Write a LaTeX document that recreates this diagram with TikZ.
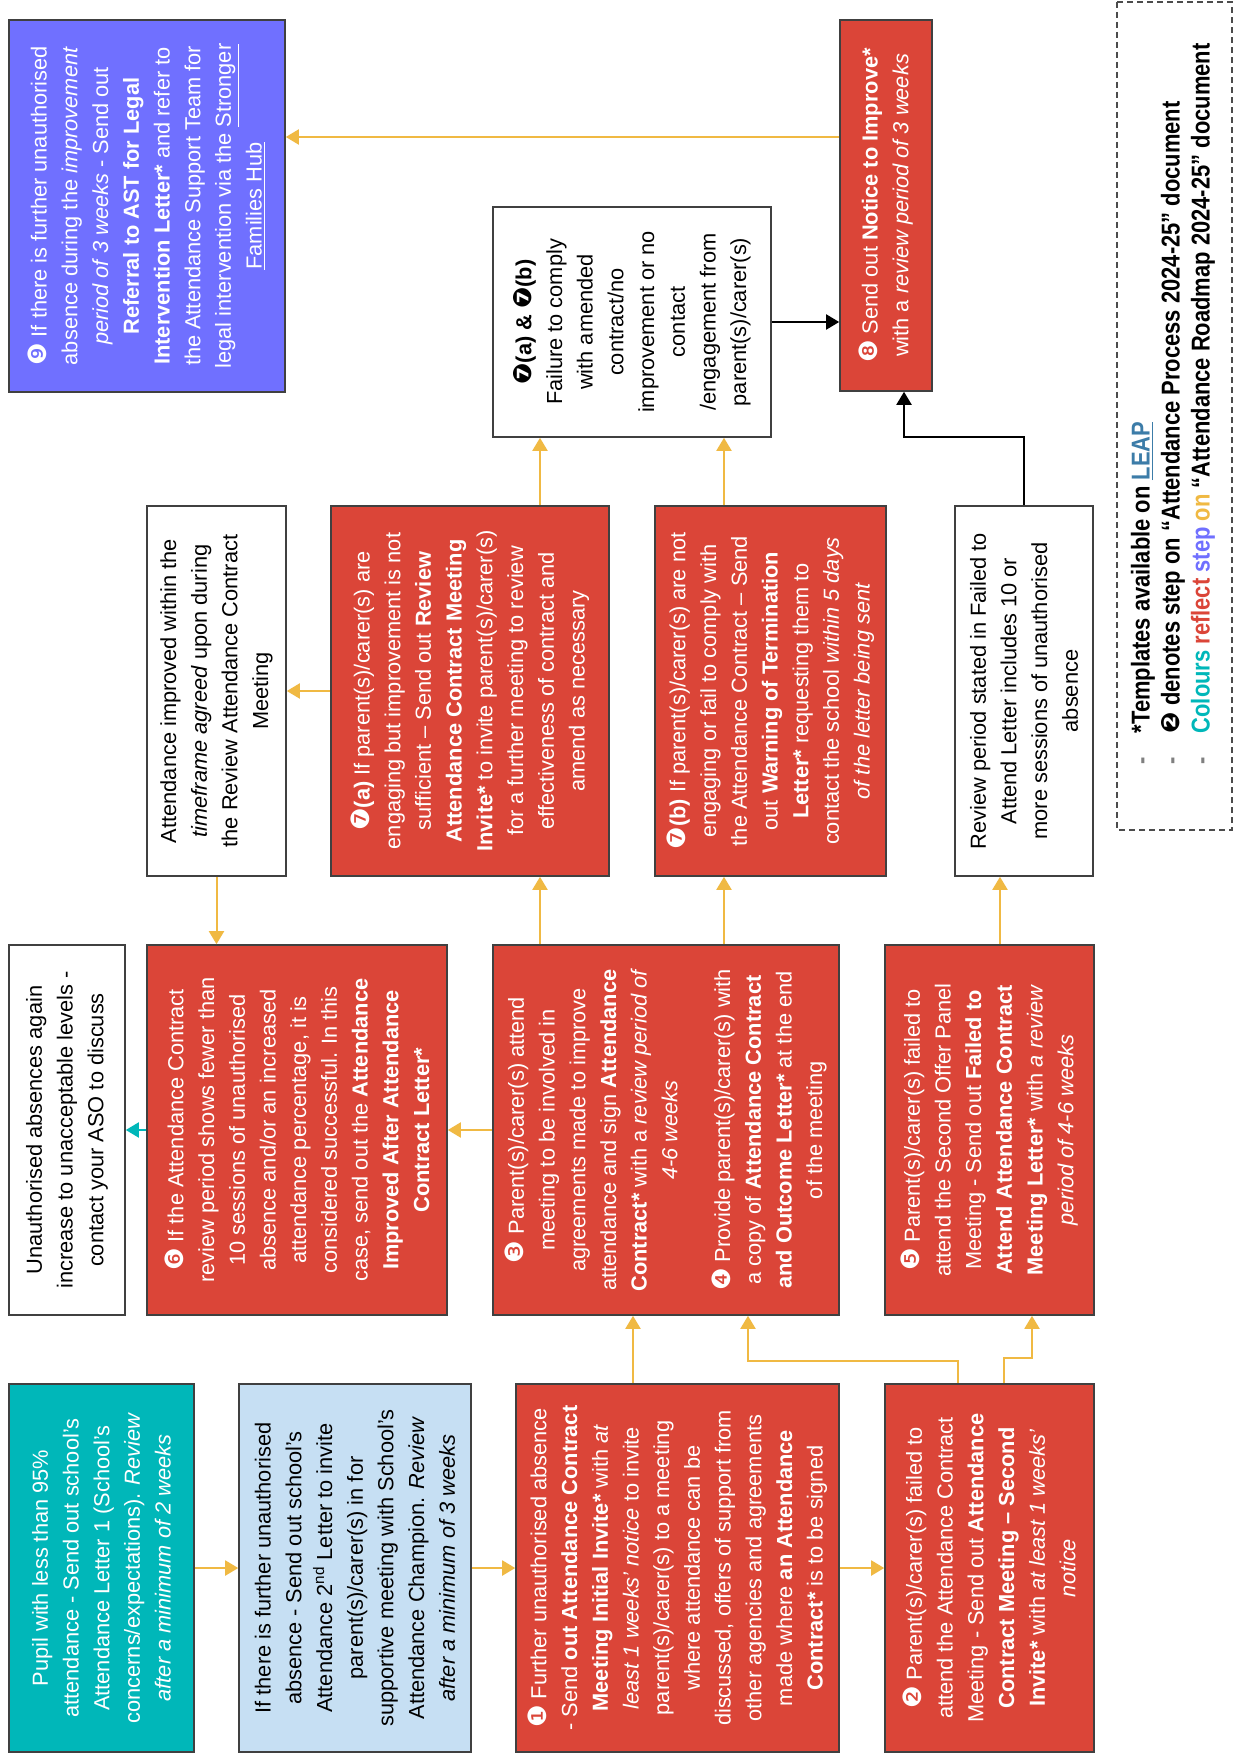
\documentclass[tikz,border=0pt]{standalone}
\usepackage{fontspec}
\setmainfont{Liberation Sans}
\newfontfamily\dingfont{DejaVu Sans}
\newfontfamily\legendfont[FakeStretch=0.85]{Liberation Sans}
\usetikzlibrary{arrows.meta}
\definecolor{stepteal}{HTML}{00B7B9}
\definecolor{secondblue}{HTML}{C6DFF3}
\definecolor{stepred}{HTML}{DB4538}
\definecolor{stepviolet}{HTML}{7070FF}
\definecolor{flowgold}{HTML}{F0B943}
\definecolor{leapblue}{HTML}{3C7CA8}
\newcommand{\stepno}[1]{{\dingfont\fontsize{12.6}{0}\selectfont #1}}
\tikzset{
  boxsize/.style 2 args={minimum width=#2*0.5pt,minimum height=#1*0.5pt},
  card/.style={draw=black!75,line width=0.8pt,rotate=90,align=center,inner sep=2pt},
  redcard/.style={card,fill=stepred,text=white},
  plaincard/.style={card,fill=white,text=black},
  flow/.style={draw=flowgold,line width=1pt,-{Triangle[width=7.5pt,length=6.5pt]}},
  blackflow/.style={flow,draw=black},
  tealflow/.style={flow,draw=stepteal}
}
\begin{document}
\begin{tikzpicture}[x=0.5pt,y=-0.5pt,every node/.style={font=\fontsize{10.9}{15.35}\selectfont}]
\useasboundingbox (0,0) rectangle (1235,1754);
\fill[white] (0,0) rectangle (1235,1754);
\node[card,fill=stepteal,text=white,boxsize={185}{368}] (pupil) at (101.5,1568) {Pupil with less than 95\%\\ attendance - Send out school's\\ Attendance Letter 1 (School's\\ concerns/expectations). \textit{Review}\\ \textit{after a minimum of 2 weeks}};
\node[card,fill=secondblue,boxsize={232}{368}] (second) at (355,1568) {If there is further unauthorised\\ absence - Send out school's\\ Attendance 2\textsuperscript{nd} Letter to invite\\ parent(s)/carer(s) in for\\ supportive meeting with School's\\ Attendance Champion. \textit{Review}\\ \textit{after a minimum of 3 weeks}};
\node[redcard,boxsize={323}{368}] (initial) at (677.5,1568) {\stepno{❶} Further unauthorised absence\\ - Send \textbf{out Attendance Contract}\\ \textbf{Meeting Initial Invite*} with \textit{at}\\ \textit{least 1 weeks' notice} to invite\\ parent(s)/carer(s) to a meeting\\ where attendance can be\\ discussed, offers of support from\\ other agencies and agreements\\ made where \textbf{an Attendance}\\ \textbf{Contract*} is to be signed};
\node[redcard,boxsize={209}{368}] (secondinv) at (989.5,1568) {\stepno{❷} Parent(s)/carer(s) failed to\\ attend the Attendance Contract\\ Meeting - Send out \textbf{Attendance}\\ \textbf{Contract Meeting – Second}\\ \textbf{Invite*} with \textit{at least 1 weeks'}\\ \textit{notice}};
\node[plaincard,boxsize={116}{370}] (aso) at (67,1130) {Unauthorised absences again\\ increase to unacceptable levels -\\ contact your ASO to discuss};
\node[redcard,boxsize={300}{370}] (improved) at (297,1130) {\stepno{❻} If the Attendance Contract\\ review period shows fewer than\\ 10 sessions of unauthorised\\ absence and/or an increased\\ attendance percentage, it is\\ considered successful. In this\\ case, send out the \textbf{Attendance}\\ \textbf{Improved After Attendance}\\ \textbf{Contract Letter*}};
\node[redcard,boxsize={346}{370}] (contract) at (666,1130) {\stepno{❸} Parent(s)/carer(s) attend\\ meeting to be involved in\\ agreements made to improve\\ attendance and sign \textbf{Attendance}\\ \textbf{Contract*} with a \textit{review period of}\\ \textit{4-6 weeks}\\[11pt] \stepno{❹} Provide parent(s)/carer(s) with\\ a copy of \textbf{Attendance Contract}\\ \textbf{and Outcome Letter*} at the end\\ of the meeting};
\node[redcard,boxsize={209}{370}] (failed) at (989.5,1130) {\stepno{❺} Parent(s)/carer(s) failed to\\ attend the Second Offer Panel\\ Meeting - Send out \textbf{Failed to}\\ \textbf{Attend Attendance Contract}\\ \textbf{Meeting Letter*} with \textit{a review}\\ \textit{period of 4-6 weeks}};
\node[plaincard,boxsize={139}{370}] (agreed) at (216.5,691) {Attendance improved within the\\ \textit{timeframe agreed} upon during\\ the Review Attendance Contract\\ Meeting};
\node[redcard,boxsize={278}{370}] (review) at (470,691) {\stepno{❼}\textbf{(a)} If parent(s)/carer(s) are\\ engaging but improvement is not\\ sufficient – Send out \textbf{Review}\\ \textbf{Attendance Contract Meeting}\\ \textbf{Invite*} to invite parent(s)/carer(s)\\ for a further meeting to review\\ effectiveness of contract and\\ amend as necessary};
\node[redcard,boxsize={231}{370}] (warning) at (770.5,691) {\stepno{❼}\textbf{(b)} If parent(s)/carer(s) are not\\ engaging or fail to comply with\\ the Attendance Contract – Send\\ out \textbf{Warning of Termination}\\ \textbf{Letter*} requesting them to\\ contact the school \textit{within 5 days}\\ \textit{of the letter being sent}};
\node[plaincard,boxsize={138}{370}] (period) at (1024,691) {Review period stated in Failed to\\ Attend Letter includes 10 or\\ more sessions of unauthorised\\ absence};
\node[card,fill=stepviolet,text=white,boxsize={276}{372}] (legal) at (147,206) {\stepno{❾} If there is further unauthorised\\ absence during the \textit{improvement}\\ \textit{period of 3 weeks} - Send out\\ \textbf{Referral to AST for Legal}\\ \textbf{Intervention Letter*} and refer to\\ the Attendance Support Team for\\ legal intervention via the \underline{Stronger}\\ \underline{Families Hub}};
\node[plaincard,boxsize={278}{230}] (failure) at (632,322) {\textbf{\stepno{❼}(a) \& \stepno{❼}(b)}\\ Failure to comply\\ with amended\\ contract/no\\ improvement or no\\ contact\\ /engagement from\\ parent(s)/carer(s)};
\node[redcard,boxsize={92}{371}] (notice) at (886,205.5) {\stepno{❽} Send out \textbf{Notice to Improve*}\\ with a \textit{review period of 3 weeks}};
\coordinate (laneA) at (633,1350);
\coordinate (bendB) at (958,1361);
\coordinate (bendB2) at (748,1361);
\coordinate (bendC) at (1004,1358);
\coordinate (bendC2) at (1032,1358);
\coordinate (laneJ) at (540,900);
\coordinate (laneK) at (724,900);
\coordinate (laneL) at (1000,900);
\coordinate (bendR) at (904,437);
\coordinate (laneN) at (600,137);
\draw[flow] (pupil.south) -- (second.north);
\draw[flow] (second.south) -- (initial.north);
\draw[flow] (initial.south) -- (secondinv.north);
\draw[flow] (initial.east -| laneA) -- (contract.west -| laneA);
\draw[flow] (secondinv.east -| bendB) -- (bendB) -- (bendB2) -- (bendB2 |- contract.west);
\draw[flow] (secondinv.east -| bendC) -- (bendC) -- (bendC2) -- (bendC2 |- failed.west);
\draw[flow] (contract.north) -- (improved.south);
\draw[tealflow] (improved.north) -- (aso.south);
\draw[flow] (agreed.west) -- (agreed.west |- improved.east);
\draw[flow] (contract.east -| laneJ) -- (review.west -| laneJ);
\draw[flow] (contract.east -| laneK) -- (warning.west -| laneK);
\draw[flow] (failed.east -| laneL) -- (period.west -| laneL);
\draw[flow] (review.north) -- (agreed.south);
\draw[flow] (review.east -| laneJ) -- (failure.west -| laneJ);
\draw[flow] (warning.east -| laneK) -- (failure.west -| laneK);
\draw[blackflow] (failure.south) -- (failure.south -| notice.north);
\draw[blackflow] (period.east) -- (period.east |- bendR) -- (bendR) -- (bendR |- notice.west);
\draw[flow] (notice.north |- laneN) -- (legal.south |- laneN);
\draw[dashed,draw=black!70,line width=0.8pt,dash pattern=on 3pt off 2pt] (1117,2) rectangle (1232,830);
\node[rotate=90,anchor=west,align=left,inner sep=0pt,font=\legendfont\bfseries\fontsize{12.9}{15}\selectfont] (notes) at (1173,765) {\textcolor{black!50}{-}\hspace{12pt}*Templates available on \textcolor{leapblue}{\underline{LEAP}}\\ \textcolor{black!50}{-}\hspace{12pt}\stepno{❷} denotes step on “Attendance Process 2024-25” document\\ \textcolor{black!50}{-}\hspace{12pt}\textcolor{stepteal}{Colours} \textcolor{stepred}{reflect} \textcolor{stepviolet}{step} \textcolor{flowgold}{on} “Attendance Roadmap 2024-25” document};
\end{tikzpicture}
\end{document}
